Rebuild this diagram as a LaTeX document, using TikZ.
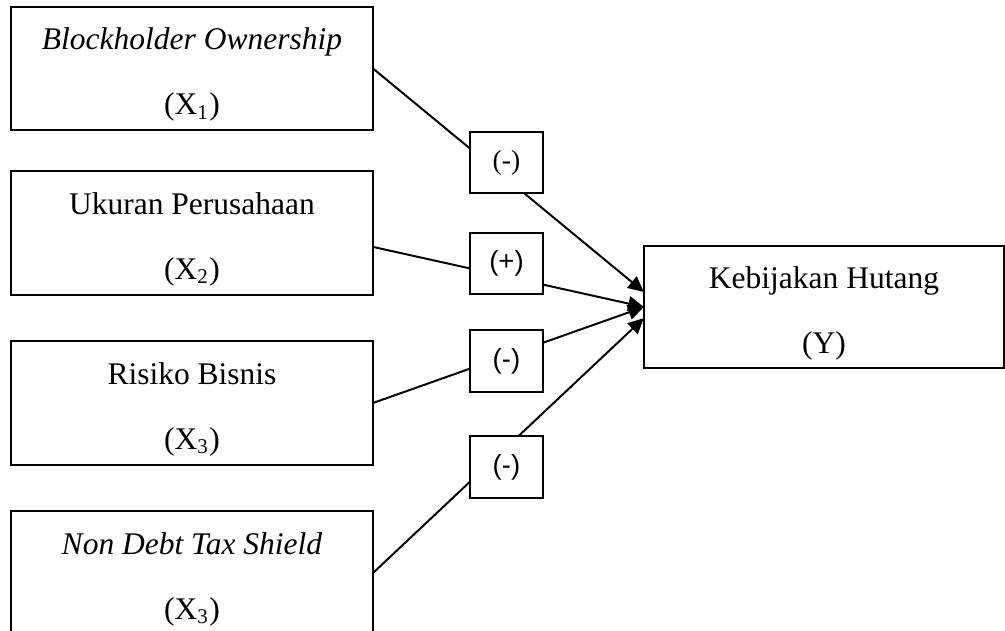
\documentclass[tikz,border=0pt]{standalone}
\usepackage{fontspec}
\setmainfont{Liberation Serif}
\setsansfont{Liberation Sans}
\usetikzlibrary{arrows.meta}
\newcommand{\sela}{\rule{0pt}{13pt}}

\begin{document}
\begin{tikzpicture}[x=0.381pt,y=-0.381pt,every node/.style={draw,outer sep=0pt,line width=0.75pt}]
	\tikzstyle{varbox}=[minimum width=137.9pt,minimum height=46.9pt,inner ysep=2pt,align=center,font=\fontsize{12}{24.8}\selectfont]
	\tikzstyle{signbox}=[fill=white,minimum width=27.8pt,minimum height=23.4pt,inner sep=0pt,font=\fontsize{10.5}{12}\sffamily]
	\tikzstyle{arrowline}=[line width=0.75pt,-{Triangle[length=6pt,width=5.6pt]}]
	
	\useasboundingbox (0,0) rectangle (1005,631);
	
	\node (X1) [varbox] at (192,68.5) {\sela\textit{Blockholder Ownership}\\(X\textsubscript{1})};		% variabel bebas
	\node (X2) [varbox] at (192,233) {\sela Ukuran Perusahaan\\(X\textsubscript{2})};
	\node (X3) [varbox] at (192,403) {\sela Risiko Bisnis\\(X\textsubscript{3})};
	\node (X4) [varbox] at (192,573) {\sela\textit{Non Debt Tax Shield}\\(X\textsubscript{3})};
	
	\node (Y) [varbox,minimum width=137.2pt,minimum height=46.5pt] at (824,307) {\sela Kebijakan Hutang\\(Y)};		% variabel terikat
	
	\draw [arrowline] (X1.east) -- ([yshift=5.7pt]Y.west);
	\draw [arrowline] ([yshift=-5.3pt]X2.east) -- (Y.west);
	\draw [arrowline] (X3.east) -- (Y.west);
	\draw [arrowline] (X4.east) -- ([yshift=-4.2pt]Y.west);
	
	\node (S1) [signbox,font=\fontsize{10.5}{12}\rmfamily] at (506.5,162.5) {(-)};		% arah pengaruh
	\node (S2) [signbox] at (506.5,263.5) {(+)};
	\node (S3) [signbox] at (506.5,361) {(-)};
	\node (S4) [signbox] at (506.5,467) {(-)};
\end{tikzpicture}
\end{document}
